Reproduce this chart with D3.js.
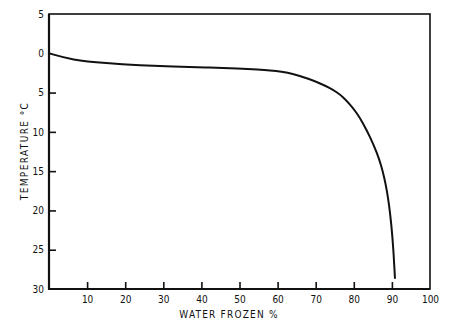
<!DOCTYPE html>
<html>
<head>
<meta charset="utf-8">
<script src="https://cdn.jsdelivr.net/npm/d3@7"></script>
<style>
  html, body { margin: 0; padding: 0; background: #fff; }
  svg { display: block; }
  text { font-family: "Liberation Sans Narrow", "DejaVu Sans Condensed", "Liberation Sans", sans-serif; fill: #111; }
</style>
</head>
<body>
<svg id="chart" width="459" height="327"></svg>
<script>
// Water frozen (%) against temperature (degrees below 0 °C)
const waterFrozen = [0, 6, 15, 24, 32.5, 41, 50, 55, 58, 61, 64, 68.3, 71, 73.75, 75.5, 77.2, 79, 80.8, 82.4, 84.3, 86.1, 87.2, 88.0, 88.7, 89.3, 89.9, 90.4, 90.8];
const temperature = [0, 0.85, 1.27, 1.53, 1.7, 1.8, 1.95, 2.08, 2.18, 2.33, 2.6, 3.27, 3.8, 4.42, 4.95, 5.56, 6.5, 7.6, 8.87, 10.65, 12.69, 14.3, 15.8, 17.5, 19.4, 22.0, 25.0, 28.6];

const xTicks = [10, 20, 30, 40, 50, 60, 70, 80, 90, 100];
const yTicks = [-5, 0, 5, 10, 15, 20, 25, 30];

(function draw() {
  const svg = d3.select("#chart");
  const x0 = 49, x1 = 430, y0 = 14, y1 = 289;

  const x = d3.scaleLinear().domain([0, 100]).range([x0, x1]);
  const y = d3.scaleLinear().domain([-5, 30]).range([y0, y1]);

  // frame
  svg.append("rect")
    .attr("x", x0).attr("y", y0)
    .attr("width", x1 - x0).attr("height", y1 - y0)
    .attr("fill", "none").attr("stroke", "#111").attr("stroke-width", 1.6);
  // heavier left and bottom axis lines
  svg.append("path")
    .attr("d", `M${x0},${y0}V${y1}H${x1}`)
    .attr("fill", "none").attr("stroke", "#111").attr("stroke-width", 2.2);

  const tickFont = '"Liberation Sans Narrow", "DejaVu Sans Condensed", sans-serif';

  // x axis: inward ticks, labels below
  const xAxis = d3.axisBottom(x).tickValues(xTicks).tickSize(-7).tickPadding(7).tickFormat(d3.format("d"));
  const gx = svg.append("g").attr("transform", `translate(0,${y1})`).call(xAxis);
  gx.select(".domain").remove();
  gx.selectAll(".tick line").attr("stroke", "#111").attr("stroke-width", 1.6)
    .filter(d => d === 100).remove();
  gx.selectAll(".tick text").attr("font-size", 10).attr("fill", "#111").style("font-family", tickFont);

  // y axis: inward ticks, labels left, shown as absolute values
  const yAxis = d3.axisLeft(y).tickValues(yTicks).tickSize(-7).tickPadding(5).tickFormat(d => Math.abs(d));
  const gy = svg.append("g").attr("transform", `translate(${x0},0)`).call(yAxis);
  gy.select(".domain").remove();
  gy.selectAll(".tick line").attr("stroke", "#111").attr("stroke-width", 1.6)
    .filter(d => d === -5 || d === 0 || d === 30).remove();
  gy.selectAll(".tick text").attr("font-size", 10).attr("fill", "#111").style("font-family", tickFont);

  // axis titles
  svg.append("text")
    .attr("x", 229).attr("y", 318)
    .attr("text-anchor", "middle")
    .attr("font-size", 10)
    .attr("letter-spacing", 1.2)
    .text("WATER FROZEN %");

  svg.append("text")
    .attr("transform", "translate(28,151) rotate(-90)")
    .attr("text-anchor", "middle")
    .attr("font-size", 10)
    .attr("letter-spacing", 1.4)
    .text("TEMPERATURE °C");

  // freezing curve
  const pts = waterFrozen.map((w, i) => [w, temperature[i]]);
  const line = d3.line().x(d => x(d[0])).y(d => y(d[1])).curve(d3.curveBasis);
  svg.append("path")
    .datum(pts)
    .attr("d", line)
    .attr("fill", "none")
    .attr("stroke", "#111")
    .attr("stroke-width", 2)
    .attr("stroke-linecap", "round");
})();
</script>
</body>
</html>
